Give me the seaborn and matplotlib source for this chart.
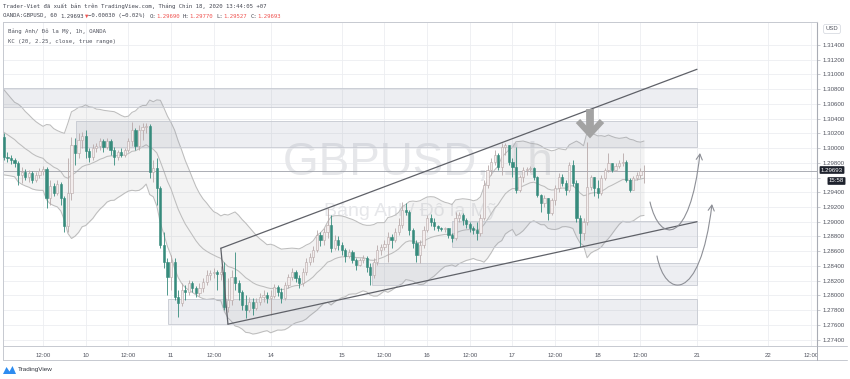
import numpy as np
import pandas as pd
import matplotlib
matplotlib.use("Agg")
import matplotlib.pyplot as plt
import matplotlib.transforms as mtransforms
from matplotlib.patches import Rectangle, FancyArrowPatch, Polygon
from matplotlib.path import Path
from matplotlib.lines import Line2D
import seaborn as sns

# ---------------- data (OANDA:GBPUSD, 1h) ----------------
bar_index = list(range(1, 182))

opens = [
    1.3015, 1.2988, 1.2987, 1.2984, 1.2980, 1.2963, 1.2968, 1.2961, 1.2966, 1.2957,
    1.2963, 1.2969, 1.2972, 1.2932, 1.2949, 1.2939, 1.2951, 1.2932, 1.2894, 1.2939,
    1.3004, 1.2993, 1.3011, 1.3016, 1.2996, 1.2988, 1.3000, 1.3003, 1.3010, 1.3002,
    1.3010, 1.2997, 1.2988, 1.2995, 1.2991, 1.2997, 1.3010, 1.3025, 1.3003, 1.3025,
    1.3029, 1.3030, 1.2968, 1.2973, 1.2946, 1.2868, 1.2845, 1.2825, 1.2845, 1.2798,
    1.2790, 1.2807, 1.2805, 1.2817, 1.2810, 1.2803, 1.2810, 1.2818, 1.2828, 1.2830,
    1.2832, 1.2829, 1.2832, 1.2784, 1.2794, 1.2825, 1.2817, 1.2805, 1.2787, 1.2780,
    1.2791, 1.2783, 1.2791, 1.2798, 1.2801, 1.2796, 1.2799, 1.2811, 1.2805, 1.2796,
    1.2814, 1.2825, 1.2832, 1.2824, 1.2817, 1.2832, 1.2845, 1.2852, 1.2862, 1.2882,
    1.2875, 1.2886, 1.2896, 1.2864, 1.2875, 1.2868, 1.2862, 1.2853, 1.2859, 1.2848,
    1.2841, 1.2848, 1.2851, 1.2839, 1.2828, 1.2845, 1.2862, 1.2866, 1.2870, 1.2879,
    1.2875, 1.2886, 1.2896, 1.2916, 1.2913, 1.2889, 1.2871, 1.2855, 1.2868, 1.2889,
    1.2905, 1.2900, 1.2894, 1.2892, 1.2890, 1.2891, 1.2882, 1.2878, 1.2905, 1.2909,
    1.2902, 1.2897, 1.2892, 1.2889, 1.2885, 1.2905, 1.2950, 1.2970, 1.2981, 1.2991,
    1.2974, 1.3002, 1.3004, 1.2981, 1.2974, 1.2943, 1.2961, 1.2970, 1.2971, 1.2973,
    1.2961, 1.2936, 1.2926, 1.2932, 1.2912, 1.2930, 1.2946, 1.2961, 1.2953, 1.2943,
    1.2977, 1.2953, 1.2905, 1.2885, 1.2900, 1.2947, 1.2961, 1.2946, 1.2939, 1.2959,
    1.2970, 1.2980, 1.2970, 1.2976, 1.2980, 1.2981, 1.2957, 1.2943, 1.2959, 1.2963,
    1.29690,
]
highs = [
    1.3021, 1.2995, 1.2991, 1.2987, 1.2983, 1.2974, 1.2972, 1.2970, 1.2969, 1.2968,
    1.2973, 1.2976, 1.2974, 1.2957, 1.2953, 1.2957, 1.2954, 1.2935, 1.2987, 1.3015,
    1.3014, 1.3021, 1.3022, 1.3025, 1.3000, 1.3006, 1.3007, 1.3014, 1.3012, 1.3014,
    1.3012, 1.3002, 1.2997, 1.3000, 1.3000, 1.3014, 1.3035, 1.3027, 1.3031, 1.3034,
    1.3034, 1.3033, 1.2984, 1.2987, 1.2949, 1.2886, 1.2851, 1.2855, 1.2851, 1.2807,
    1.2817, 1.2814, 1.2821, 1.2820, 1.2813, 1.2817, 1.2824, 1.2834, 1.2834, 1.2837,
    1.2834, 1.2840, 1.2845, 1.2824, 1.2834, 1.2859, 1.2821, 1.2807, 1.2801, 1.2798,
    1.2796, 1.2796, 1.2803, 1.2807, 1.2805, 1.2807, 1.2815, 1.2814, 1.2810, 1.2818,
    1.2829, 1.2837, 1.2834, 1.2828, 1.2837, 1.2851, 1.2858, 1.2867, 1.2889, 1.2886,
    1.2892, 1.2919, 1.2909, 1.2882, 1.2881, 1.2873, 1.2864, 1.2863, 1.2862, 1.2851,
    1.2851, 1.2855, 1.2853, 1.2844, 1.2851, 1.2868, 1.2870, 1.2875, 1.2886, 1.2883,
    1.2892, 1.2905, 1.2927, 1.2926, 1.2916, 1.2892, 1.2875, 1.2875, 1.2894, 1.2909,
    1.2911, 1.2905, 1.2896, 1.2893, 1.2893, 1.2892, 1.2885, 1.2913, 1.2913, 1.2912,
    1.2905, 1.2900, 1.2894, 1.2900, 1.2911, 1.2957, 1.2977, 1.2987, 1.2997, 1.2993,
    1.3007, 1.3007, 1.3000, 1.2987, 1.3002, 1.2963, 1.2974, 1.2974, 1.2976, 1.2974,
    1.2962, 1.2938, 1.2936, 1.2932, 1.2932, 1.2950, 1.2966, 1.2965, 1.2957, 1.2981,
    1.2984, 1.2957, 1.2909, 1.2905, 1.3008, 1.2963, 1.2961, 1.2957, 1.2963, 1.2973,
    1.2993, 1.2980, 1.2980, 1.2984, 1.2993, 1.2984, 1.2959, 1.2962, 1.2968, 1.2973,
    1.29770,
]
lows = [
    1.2984, 1.2981, 1.2978, 1.2974, 1.2950, 1.2953, 1.2957, 1.2954, 1.2953, 1.2954,
    1.2959, 1.2963, 1.2919, 1.2923, 1.2935, 1.2936, 1.2923, 1.2886, 1.2886, 1.2930,
    1.2977, 1.2987, 1.3000, 1.2987, 1.2981, 1.2984, 1.2995, 1.2997, 1.2995, 1.2999,
    1.2991, 1.2977, 1.2984, 1.2988, 1.2988, 1.2995, 1.3003, 1.2997, 1.2997, 1.3011,
    1.3021, 1.2959, 1.2954, 1.2923, 1.2864, 1.2837, 1.2801, 1.2807, 1.2794, 1.2771,
    1.2786, 1.2794, 1.2801, 1.2805, 1.2798, 1.2799, 1.2805, 1.2814, 1.2821, 1.2824,
    1.2807, 1.2821, 1.2780, 1.2777, 1.2787, 1.2807, 1.2794, 1.2780, 1.2769, 1.2777,
    1.2773, 1.2780, 1.2787, 1.2791, 1.2790, 1.2773, 1.2796, 1.2799, 1.2790, 1.2794,
    1.2810, 1.2821, 1.2818, 1.2810, 1.2813, 1.2828, 1.2841, 1.2845, 1.2859, 1.2867,
    1.2868, 1.2878, 1.2859, 1.2862, 1.2862, 1.2855, 1.2845, 1.2851, 1.2844, 1.2834,
    1.2840, 1.2844, 1.2832, 1.2814, 1.2824, 1.2841, 1.2855, 1.2862, 1.2845, 1.2864,
    1.2873, 1.2882, 1.2892, 1.2909, 1.2882, 1.2864, 1.2845, 1.2844, 1.2864, 1.2886,
    1.2894, 1.2889, 1.2888, 1.2888, 1.2886, 1.2878, 1.2873, 1.2875, 1.2900, 1.2896,
    1.2892, 1.2886, 1.2883, 1.2875, 1.2881, 1.2902, 1.2946, 1.2963, 1.2977, 1.2970,
    1.2963, 1.2991, 1.2977, 1.2961, 1.2939, 1.2940, 1.2954, 1.2963, 1.2968, 1.2957,
    1.2934, 1.2913, 1.2920, 1.2902, 1.2909, 1.2923, 1.2940, 1.2949, 1.2936, 1.2940,
    1.2949, 1.2900, 1.2866, 1.2875, 1.2896, 1.2943, 1.2935, 1.2932, 1.2936, 1.2957,
    1.2968, 1.2968, 1.2970, 1.2973, 1.2976, 1.2954, 1.2940, 1.2943, 1.2957, 1.2959,
    1.29527,
]
closes = [
    1.2988, 1.2987, 1.2984, 1.2980, 1.2963, 1.2968, 1.2961, 1.2966, 1.2957, 1.2963,
    1.2969, 1.2972, 1.2932, 1.2949, 1.2939, 1.2951, 1.2932, 1.2894, 1.2939, 1.3004,
    1.2993, 1.3011, 1.3016, 1.2996, 1.2988, 1.3000, 1.3003, 1.3010, 1.3002, 1.3010,
    1.2997, 1.2988, 1.2995, 1.2991, 1.2997, 1.3010, 1.3025, 1.3003, 1.3025, 1.3029,
    1.3030, 1.2968, 1.2973, 1.2946, 1.2868, 1.2845, 1.2825, 1.2845, 1.2798, 1.2790,
    1.2807, 1.2805, 1.2817, 1.2810, 1.2803, 1.2810, 1.2818, 1.2828, 1.2830, 1.2832,
    1.2829, 1.2832, 1.2784, 1.2794, 1.2825, 1.2817, 1.2805, 1.2787, 1.2780, 1.2791,
    1.2783, 1.2791, 1.2798, 1.2801, 1.2796, 1.2799, 1.2811, 1.2805, 1.2796, 1.2814,
    1.2825, 1.2832, 1.2824, 1.2817, 1.2832, 1.2845, 1.2852, 1.2862, 1.2882, 1.2875,
    1.2886, 1.2896, 1.2864, 1.2875, 1.2868, 1.2862, 1.2853, 1.2859, 1.2848, 1.2841,
    1.2848, 1.2851, 1.2839, 1.2828, 1.2845, 1.2862, 1.2866, 1.2870, 1.2879, 1.2875,
    1.2886, 1.2896, 1.2916, 1.2913, 1.2889, 1.2871, 1.2855, 1.2868, 1.2889, 1.2905,
    1.2900, 1.2894, 1.2892, 1.2890, 1.2891, 1.2882, 1.2878, 1.2905, 1.2909, 1.2902,
    1.2897, 1.2892, 1.2889, 1.2885, 1.2905, 1.2950, 1.2970, 1.2981, 1.2991, 1.2974,
    1.3002, 1.3004, 1.2981, 1.2974, 1.2943, 1.2961, 1.2970, 1.2971, 1.2973, 1.2961,
    1.2936, 1.2926, 1.2932, 1.2912, 1.2930, 1.2946, 1.2961, 1.2953, 1.2943, 1.2977,
    1.2953, 1.2905, 1.2885, 1.2900, 1.2947, 1.2961, 1.2946, 1.2939, 1.2959, 1.2970,
    1.2980, 1.2970, 1.2976, 1.2980, 1.2981, 1.2957, 1.2943, 1.2959, 1.2963, 1.2969,
    1.29693,
]

last_price = 1.29693
countdown = "15:58"

time_tick_bars = [12, 24, 36, 48, 60, 76, 96, 108, 120, 132, 144, 156, 168, 180, 196, 216, 228]
time_tick_labels = ["12:00", "10", "12:00", "11", "12:00", "14", "15", "12:00", "16",
                    "12:00", "17", "12:00", "18", "12:00", "21", "22", "12:00"]
price_ticks = [1.274, 1.276, 1.278, 1.280, 1.282, 1.284, 1.286, 1.288, 1.290, 1.292,
               1.294, 1.296, 1.298, 1.300, 1.302, 1.304, 1.306, 1.308, 1.310, 1.312, 1.314]
hidden_price_label = 1.296   # covered by the last-price label on the axis

# Keltner channel settings (KC 20, 2.25, close, true range) and values at the left edge
kc_length = 20
kc_mult = 2.25
kc_seed_mid = 1.3025
kc_seed_range = 0.00245

# horizontal zones drawn on the chart (price bounds, start bar)
zone_tops = [1.3082, 1.3037, 1.2901, 1.2844, 1.2795]
zone_bottoms = [1.3056, 1.3002, 1.2866, 1.2814, 1.2761]
zone_starts = [-3.0, 21.3, 127.0, 104.5, 47.1]
zone_end = 195.9

# rising channel drawn on the chart (bar, price)
channel_upper = [(62.0, 1.2864), (195.9, 1.3107)]
channel_lower = [(64.0, 1.2761), (195.9, 1.2900)]

# ---------------- style ----------------
sns.set_theme(style="white")
plt.rcParams["font.family"] = ["Liberation Sans", "DejaVu Sans"]
MONO = ["DejaVu Sans Mono", "DejaVu Sans"]

W, H = 850, 379
fig = plt.figure(figsize=(W / 100, H / 100), dpi=100)
fig.patch.set_facecolor("white")
ax = fig.add_axes([3 / W, 1 - 346 / H, (817 - 3) / W, (346 - 22) / H])
ax.set_facecolor("white")
pix = mtransforms.Affine2D().scale(1, -1).translate(0, H)  # image pixel coords -> display

TXT = "#50535e"
SMALL = 4.4
HDR = 4.1
BEAR = "#368b7c"
BULL_FILL = "#f3eded"
BULL_EDGE = "#b7a8a8"

# ---------------- Keltner channel ----------------
alpha = 2.0 / (kc_length + 1)
mid = [kc_seed_mid]
rng = [kc_seed_range]
prev_c = opens[0]
for h_, l_, c_ in zip(highs, lows, closes):
    tr = max(h_ - l_, abs(h_ - prev_c), abs(l_ - prev_c))
    rng.append(rng[-1] + alpha * (tr - rng[-1]))
    mid.append(mid[-1] + alpha * (c_ - mid[-1]))
    prev_c = c_
kc = pd.DataFrame({"bar": [0] + bar_index, "mid": mid, "rng": rng})
kc["upper"] = kc["mid"] + kc_mult * kc["rng"]
kc["lower"] = kc["mid"] - kc_mult * kc["rng"]

ax.fill_between(kc["bar"], kc["lower"], kc["upper"], color="#9e9e9e", alpha=0.12, lw=0, zorder=1.2)
for col in ["upper", "mid", "lower"]:
    sns.lineplot(data=kc, x="bar", y=col, ax=ax, color="#bdbdbd", lw=0.75, zorder=1.3)

# ---------------- zones ----------------
for top, bot, x0 in zip(zone_tops, zone_bottoms, zone_starts):
    ax.add_patch(Rectangle((x0, bot), zone_end - x0, top - bot, facecolor="#8c93a8", alpha=0.15,
                           edgecolor="none", zorder=1.5))
    ax.add_patch(Rectangle((x0, bot), zone_end - x0, top - bot, facecolor="none",
                           edgecolor="#c6c9d1", lw=0.6, zorder=1.6))

# ---------------- watermark ----------------
ax.text(418 / W, 1 - 163 / H, "GBPUSD, 1h", transform=fig.transFigure, ha="center", va="center",
        fontsize=33, color="#e6e7ea", zorder=0.6)
ax.text(410 / W, 1 - 212 / H, "Bảng Anh/ Đô la Mỹ", transform=fig.transFigure, ha="center",
        va="center", fontsize=14, color="#e6e7ea", zorder=0.6)

# ---------------- candles ----------------
idx = np.array(bar_index, dtype=float)
o = np.array(opens); hh = np.array(highs); ll = np.array(lows); c = np.array(closes)
up = c >= o
top_w = np.maximum(hh, np.maximum(o, c))
bot_w = np.minimum(ll, np.minimum(o, c))
body_b = np.minimum(o, c)
body_h = np.maximum(np.abs(c - o), 0.00004)
ax.vlines(idx[up], bot_w[up], top_w[up], color=BULL_EDGE, lw=0.6, zorder=3)
ax.vlines(idx[~up], bot_w[~up], top_w[~up], color=BEAR, lw=0.6, zorder=3)
ax.bar(idx[up], body_h[up], bottom=body_b[up], width=0.62, color=BULL_FILL,
       edgecolor=BULL_EDGE, lw=0.4, zorder=3.1)
ax.bar(idx[~up], body_h[~up], bottom=body_b[~up], width=0.62, color=BEAR,
       edgecolor=BEAR, lw=0.4, zorder=3.1)

# last price line
ax.axhline(last_price, color="#9da0a8", lw=0.6, zorder=2.5)

# ---------------- channel drawing ----------------
ax.plot([p[0] for p in channel_upper], [p[1] for p in channel_upper], color="#5f6168", lw=0.9, zorder=4)
ax.plot([p[0] for p in channel_lower], [p[1] for p in channel_lower], color="#5f6168", lw=0.9, zorder=4)
ax.plot([channel_upper[0][0], channel_lower[0][0]], [channel_upper[0][1], channel_lower[0][1]],
        color="#5f6168", lw=0.9, zorder=4)

# ---------------- arrow drawings (image pixel coords) ----------------
arrow_x, arrow_top, arrow_tip, arrow_half = 590, 109, 135, 12
ax.plot([arrow_x, arrow_x], [arrow_top, arrow_tip - 5], transform=pix, color="#a3a3a3", lw=5.6,
        solid_capstyle="butt", zorder=5)
ax.plot([arrow_x - arrow_half, arrow_x, arrow_x + arrow_half],
        [arrow_tip - 14, arrow_tip - 1, arrow_tip - 14], transform=pix, color="#a3a3a3", lw=4.3,
        solid_capstyle="butt", solid_joinstyle="miter", zorder=5)

curve1 = [(650, 202), (660, 245), (690, 245), (700, 153)]
curve2 = [(657, 256), (665, 298), (700, 305), (712, 204)]
for pts in (curve1, curve2):
    path = Path(pts, [Path.MOVETO, Path.CURVE4, Path.CURVE4, Path.CURVE4])
    ax.add_patch(FancyArrowPatch(path=path, arrowstyle="->,head_length=4,head_width=2.2",
                                 color="#8d8f96", lw=0.8, transform=pix, zorder=5))

# ---------------- axes ----------------
ax.set_xlabel(""); ax.set_ylabel("")
ax.set_xlim(0.742, 229.65)
ax.set_ylim(1.27313, 1.31712)
ax.yaxis.tick_right()
ax.set_yticks(price_ticks)
ax.set_yticklabels(["" if abs(p - hidden_price_label) < 1e-9 else f"{p:.5f}" for p in price_ticks])
ax.set_xticks(time_tick_bars)
ax.set_xticklabels(time_tick_labels)
ax.tick_params(axis="y", labelsize=SMALL, labelcolor=TXT, length=2, width=0.5, color="#b2b5be", pad=2.2)
ax.tick_params(axis="x", labelsize=SMALL, labelcolor=TXT, length=2, width=0.5, color="#b2b5be", pad=3.0)
ax.grid(True, color="#eceef1", lw=0.6)
ax.set_axisbelow(True)
for s in ["left", "top", "bottom"]:
    ax.spines[s].set_color("#c6c9d0"); ax.spines[s].set_linewidth(0.7)
ax.spines["right"].set_color("#a9acb4"); ax.spines["right"].set_linewidth(0.8)

for xs, ys, colr in [((817, 847), (346, 346), "#c6c9d0"), ((3, 847), (360, 360), "#c6c9d0"),
                     ((3, 3), (346, 360), "#c6c9d0"), ((817, 817), (346, 360), "#a9acb4")]:
    fig.add_artist(Line2D(xs, ys, transform=pix, color=colr, lw=0.7))

# price label & countdown
fig.text(832 / W, 1 - 170.0 / H, f"{last_price:.5f}", ha="center", va="center", fontsize=SMALL,
         color="white", bbox=dict(boxstyle="round,pad=0.22,rounding_size=0.15", fc="#1e222d", ec="none"))
fig.text(836.5 / W, 1 - 181.0 / H, countdown, ha="center", va="center", fontsize=SMALL, color="white",
         bbox=dict(boxstyle="round,pad=0.22,rounding_size=0.15", fc="#1e222d", ec="none"))
fig.text(832 / W, 1 - 29 / H, "USD", ha="center", va="center", fontsize=4.2, color=TXT,
         bbox=dict(boxstyle="round,pad=0.35,rounding_size=0.3", fc="white", ec="#d1d4dc", lw=0.5))

# ---------------- header & legend texts ----------------
fig.text(3 / W, 1 - 6 / H, "Trader-Viet đã xuất bản trên TradingView.com, Tháng Chín 18, 2020 13:44:05 +07",
         ha="left", va="center", fontsize=HDR, color="#434651", family=MONO)
fig.canvas.draw()
renderer = fig.canvas.get_renderer()
DARK = "#434651"; RED = "#ef5350"
segs = [("OANDA:GBPUSD, 60", DARK, 3.4), ("1.29693", DARK, 0.5), ("▼", RED, 0.5),
        ("−0.00030 (−0.02%)", DARK, 3.4), ("O:", DARK, 0), ("1.29690", RED, 3.4), ("H:", DARK, 0),
        ("1.29770", RED, 3.4), ("L:", DARK, 0), ("1.29527", RED, 3.4), ("C:", DARK, 0),
        ("1.29693", RED, 0)]
xcur = 3
for s, colr, gap in segs:
    t = fig.text(xcur / W, 1 - 16 / H, s, ha="left", va="center", fontsize=HDR, color=colr, family=MONO)
    bb = t.get_window_extent(renderer=renderer)
    xcur += bb.width + gap

fig.text(8 / W, 1 - 31 / H, "Bảng Anh/ Đô la Mỹ, 1h, OANDA", ha="left", va="center",
         fontsize=HDR, color="#50535e", family=MONO)
fig.text(8 / W, 1 - 41 / H, "KC (20, 2.25, close, true range)", ha="left", va="center",
         fontsize=HDR, color="#50535e", family=MONO)

# TradingView logo
fig.add_artist(Polygon([(3, 374), (6.5, 367), (9.5, 371.5), (12.5, 366), (16, 374)], closed=True,
                       transform=pix, facecolor="#2d8cf0", edgecolor="none"))
fig.text(18 / W, 1 - 370 / H, "TradingView", ha="left", va="center", fontsize=4.6, color="#333740")

fig.savefig("out.png", dpi=100, facecolor="white")
